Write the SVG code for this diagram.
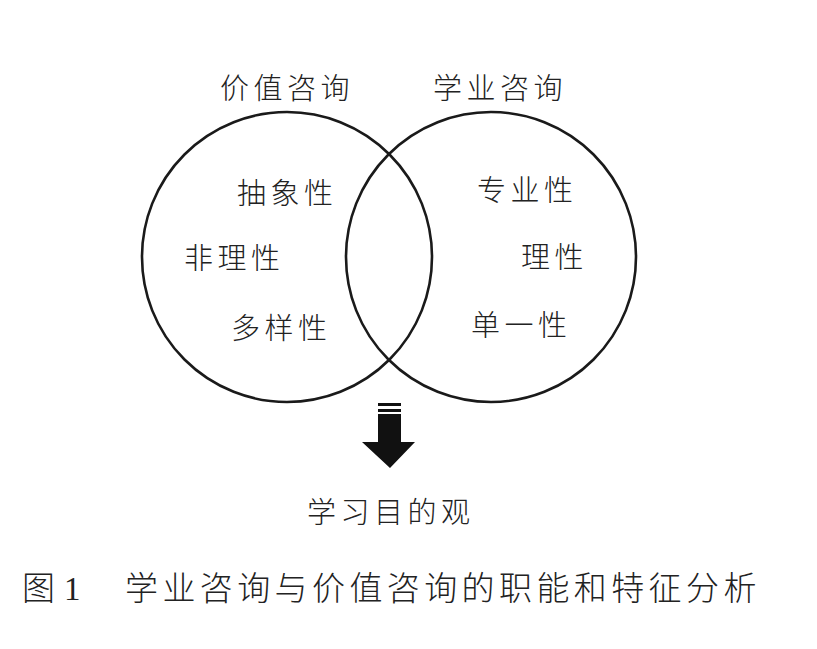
<svg xmlns="http://www.w3.org/2000/svg" width="817" height="649" viewBox="0 0 817 649">
<style>
.c{fill:none;stroke:#1a1a1a;stroke-width:2.6}
.t{font-family:"Noto Sans CJK SC","Noto Sans CJK TC",sans-serif;font-size:29px;fill:#222;letter-spacing:4.5px;font-weight:300}
.cap{font-family:"Liberation Serif","Noto Sans CJK SC",serif;font-size:33px;fill:#222;letter-spacing:4.4px;font-weight:300}
</style>
<rect width="817" height="649" fill="#fff"/>
<g id="value-consult">
<circle class="c" cx="287" cy="257" r="145"/>
<text class="t" x="220" y="99">价值咨询</text>
<text class="t" x="237" y="204">抽象性</text>
<text class="t" x="184" y="269">非理性</text>
<text class="t" x="231" y="339">多样性</text>
</g>
<g id="academic-consult">
<circle class="c" cx="491" cy="257" r="145"/>
<text class="t" x="433" y="99">学业咨询</text>
<text class="t" x="477" y="201">专业性</text>
<text class="t" x="521" y="268">理性</text>
<text class="t" x="471" y="336">单一性</text>
</g>
<g id="connectors">
<rect x="378" y="403" width="23" height="3" fill="#111"/>
<rect x="378" y="409" width="23" height="3" fill="#111"/>
<polygon points="378,414 401,414 401,442 415,442 390,468 362,442 378,442" fill="#111"/>
</g>
<g id="learning-goal">
<text class="t" x="307" y="523">学习目的观</text>
</g>
<g id="caption">
<text class="cap" x="22" y="600" style="letter-spacing:9px">图1</text>
<text class="cap" x="125" y="600">学业咨询与价值咨询的职能和特征分析</text>
</g>
</svg>
